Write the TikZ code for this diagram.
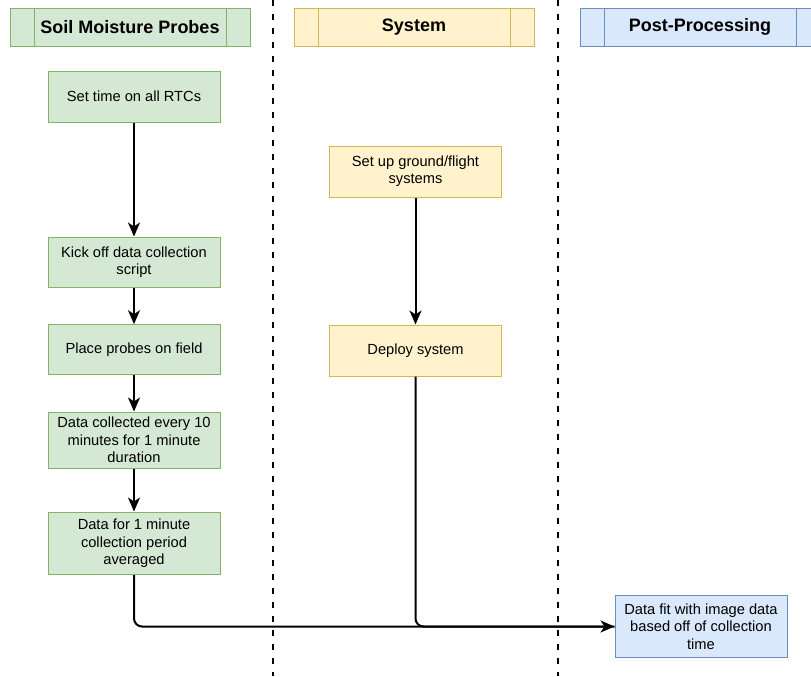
\documentclass[tikz,border=0pt]{standalone}
\usepackage{fontspec}
\setmainfont{Liberation Sans}
\usetikzlibrary{positioning}
\usetikzlibrary{arrows.meta}
\definecolor{probefill}{HTML}{D5E8D4}
\definecolor{probeline}{HTML}{82B366}
\definecolor{sysfill}{HTML}{FFF2CC}
\definecolor{sysline}{HTML}{D6B656}
\definecolor{postfill}{HTML}{DAE8FC}
\definecolor{postline}{HTML}{6C8EBF}
\tikzset{%
  flowarrow/.style = {-{Stealth[length=10.5pt,width=9pt,inset=3pt]},line width=1.5pt},
  flowline/.style = {line width=1.5pt},
  divider/.style = {line width=1.5pt,dash pattern=on 4.5pt off 6pt},
  box/.style = {rectangle,draw,line width=0.75pt,minimum width=129pt,
        minimum height=38pt,align=center,inner sep=2pt,
        font=\fontsize{11}{13}\selectfont},
  probe/.style = {box,fill=probefill,draw=probeline},
  sys/.style = {box,fill=sysfill,draw=sysline},
  post/.style = {box,fill=postfill,draw=postline},
  lanehead/.style = {rectangle,draw=#1line,fill=#1fill,line width=0.75pt,
        minimum width=180pt,minimum height=28.5pt,
        font=\fontsize{13.5}{16}\selectfont\bfseries,
        path picture={\draw[#1line,line width=0.75pt]
          ([xshift=18pt]path picture bounding box.north west) --
          ([xshift=18pt]path picture bounding box.south west)
          ([xshift=-18pt]path picture bounding box.north east) --
          ([xshift=-18pt]path picture bounding box.south east);}}
}
\begin{document}
\begin{tikzpicture}[x=0.75pt,y=-0.75pt]
                    \clip (0,0) rectangle (811,676);
                    % lanes
                    \node[lanehead=probe] (laneprobe) at (130,27) {Soil Moisture Probes};
                    \node[lanehead=sys] (lanesys) at (414,27) {System};
                    \node[lanehead=post] (lanepost) at (700,27) {Post-Processing};
                    \coordinate (divatop) at (273,0);
                    \coordinate (divabot) at (273,676);
                    \coordinate (divbtop) at (558,0);
                    \coordinate (divbbot) at (558,676);
                    \draw[divider] (divatop) -- (divabot);
                    \draw[divider] (divbtop) -- (divbbot);

                    % soil moisture probes
                    \node[probe,minimum height=38.25pt] (settime) at (134,96.5) {Set time on all RTCs};
                    \node[probe] (kickoff) [below=85.5pt of settime] {Kick off data collection\\script};
                    \node[probe,minimum height=37pt] (place) [below=27pt of kickoff] {Place probes on field};
                    \node[probe,minimum height=42pt] (collected) [below=27.75pt of place] {Data collected every 10\\minutes for 1 minute\\duration};
                    \node[probe,minimum height=47pt] (averaged) [below=32.25pt of collected] {Data for 1 minute\\collection period\\averaged};

                    % system
                    \node[sys,minimum height=38.25pt] (setup) at (415.5,171.5) {Set up ground/flight\\systems};
                    \node[sys,minimum height=38.25pt] (deploy) [below=95.25pt of setup] {Deploy system};

                    % post-processing
                    \node[post,minimum height=47pt] (fit) at (701,626.5) {Data fit with image data\\based off of collection\\time};

                    \draw[flowarrow] (settime) -- (kickoff);
                    \draw[flowarrow] (kickoff) -- (place);
                    \draw[flowarrow] (place) -- (collected);
                    \draw[flowarrow] (collected) -- (averaged);
                    \draw[flowarrow] (setup) -- (deploy);

                    \draw[flowline,rounded corners=6pt] (deploy.south) |- (fit.west);
                    \draw[flowarrow,rounded corners=6pt] (averaged.south) |- (fit.west);
                 \end{tikzpicture}
\end{document}
